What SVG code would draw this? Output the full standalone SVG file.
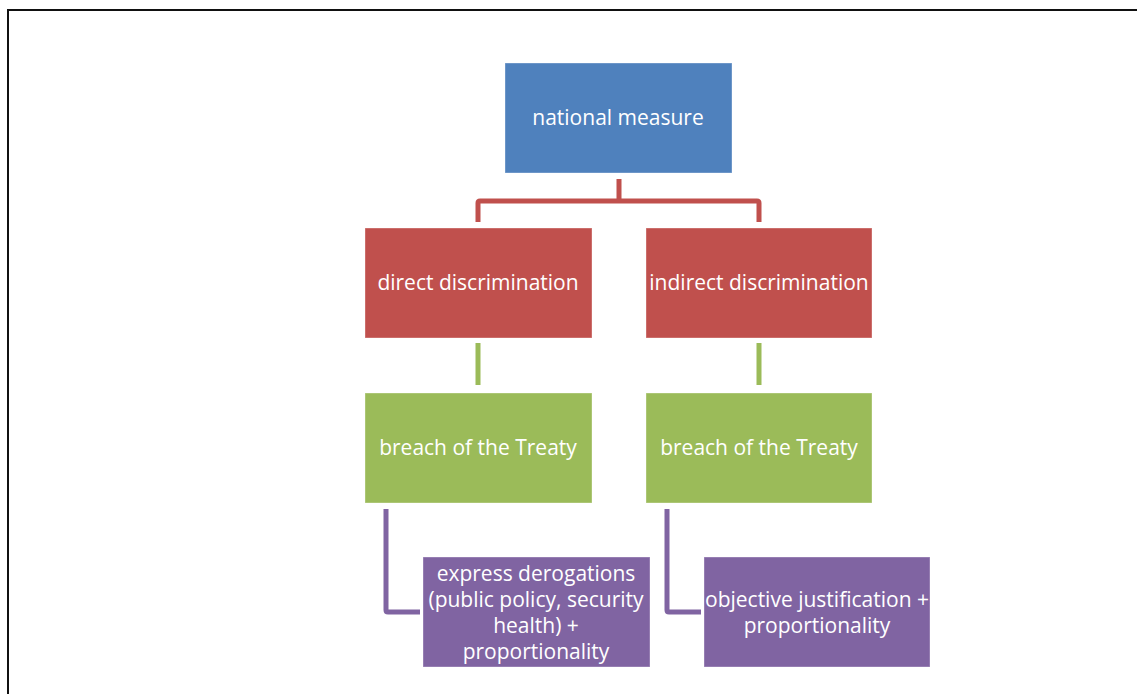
<svg xmlns="http://www.w3.org/2000/svg" width="1137" height="694" viewBox="0 0 1137 694">
<style>
text{font-family:"Open Sans","Liberation Sans",Arial,sans-serif;font-size:21px;fill:#fff;text-anchor:middle}
.box{stroke:#fff;stroke-opacity:0.35;stroke-width:1}
.blue{fill:#4F81BD}.red{fill:#C0504D}.green{fill:#9BBB59}.purple{fill:#8064A2}
.c{fill:none;stroke-width:5;stroke-linejoin:round}
</style>
<rect width="1137" height="694" fill="#fff"/>
<path d="M8,694 V10 H1137" fill="none" stroke="#111" stroke-width="2"/>
<g id="connectors">
<path class="c" stroke="#C0504D" d="M619,179 V201 M478,222 V203 Q478,201 480,201 H757 Q759,201 759,203 V222"/>
<path class="c" stroke="#9BBB59" d="M478,343 V385 M759,343 V385"/>
<path class="c" stroke="#8064A2" d="M386,509 V610 Q386,612 388,612 H420 M667,509 V610 Q667,612 669,612 H701"/>
</g>
<g id="n1"><rect class="box blue" x="505" y="63" width="227" height="110"/><text x="618" y="125">national measure</text></g>
<g id="n2"><rect class="box red" x="365" y="228" width="227" height="110"/><text x="478" y="290">direct discrimination</text></g>
<g id="n3"><rect class="box red" x="646" y="228" width="226" height="110"/><text x="759" y="290">indirect discrimination</text></g>
<g id="n4"><rect class="box green" x="365" y="393" width="227" height="110"/><text x="478" y="455">breach of the Treaty</text></g>
<g id="n5"><rect class="box green" x="646" y="393" width="226" height="110"/><text x="759" y="455">breach of the Treaty</text></g>
<g id="n6"><rect class="box purple" x="423" y="557" width="227" height="110"/>
<text x="536" y="581">express derogations</text>
<text x="536" y="607">(public policy, security</text>
<text x="536" y="633">health) +</text>
<text x="536" y="659">proportionality</text></g>
<g id="n7"><rect class="box purple" x="704" y="557" width="226" height="110"/>
<text x="817" y="607">objective justification +</text>
<text x="817" y="633">proportionality</text></g>
</svg>
